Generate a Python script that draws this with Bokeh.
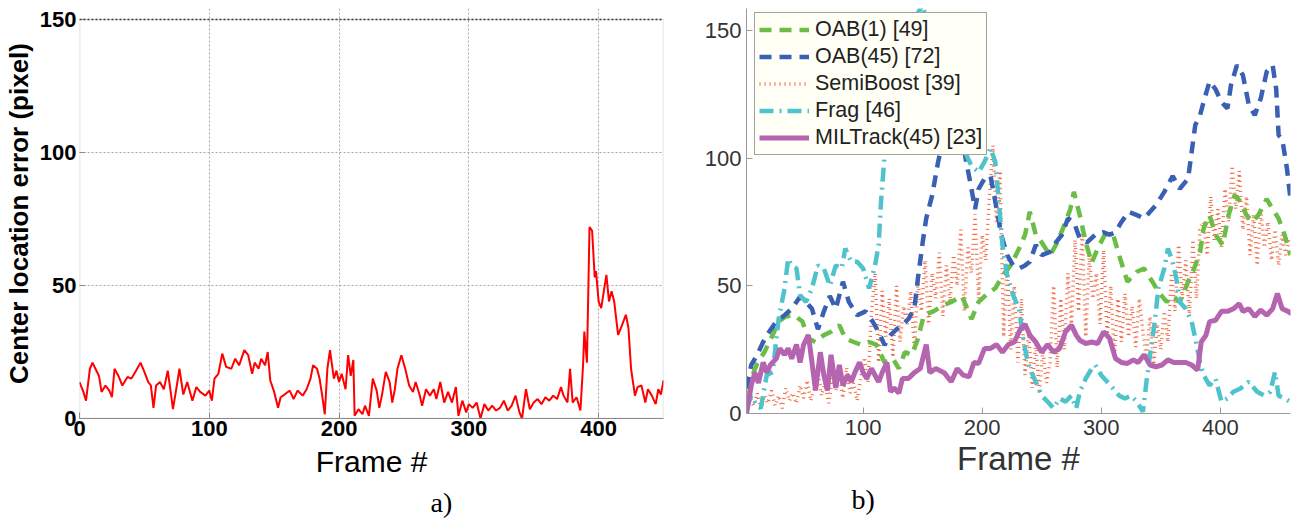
from bokeh.plotting import figure
from bokeh.layouts import row
from bokeh.models import Range1d, FixedTicker, Legend, LegendItem, Title, BoxAnnotation, Span
from bokeh.embed import file_html
from bokeh.resources import INLINE

# ---------------- panel a) data ----------------
a_frames = [0, 3, 5, 8, 10, 12, 15, 17, 20, 23,
            25, 27, 30, 33, 37, 40, 43, 47, 50, 53,
            55, 57, 59, 62, 65, 68, 70, 72, 75, 77,
            80, 83, 87, 90, 93, 97, 100, 102, 104, 107,
            110, 113, 117, 120, 123, 127, 130, 133, 135, 138,
            140, 143, 145, 147, 150, 153, 155, 158, 162, 165,
            168, 172, 175, 178, 180, 183, 185, 187, 189, 191,
            193, 196, 198, 200, 202, 205, 207, 209, 211, 212,
            215, 218, 220, 223, 226, 229, 231, 233, 236, 239,
            241, 243, 245, 248, 251, 254, 257, 259, 262, 264,
            267, 270, 273, 275, 278, 281, 284, 287, 290, 292,
            295, 298, 300, 303, 306, 309, 312, 315, 318, 321,
            324, 327, 330, 333, 336, 339, 341, 344, 347, 350,
            353, 356, 359, 362, 365, 368, 371, 373, 376, 378,
            380, 383, 386, 388, 389, 391, 393, 395, 397, 398,
            400, 402, 404, 406, 408, 410, 412, 415, 418, 421,
            423, 425, 428, 430, 433, 436, 438, 441, 444, 446,
            448, 450]
a_error = [13.7, 10, 6.7, 18.7, 21, 19, 16, 10, 12.4, 10.5,
           8, 18.7, 16, 12.4, 15.6, 15, 17.5, 21, 17.5, 13.7,
           12.4, 4, 12.4, 13.7, 11, 18, 11, 3.5, 12.4, 18.7,
           9, 13.7, 6.7, 11.8, 10, 8.6, 10.5, 6.7, 15, 16.8,
           24.4, 19.4, 18.7, 22.5, 20, 25.7, 23.8, 16.8, 21, 18.7,
           22.5, 20, 25, 14.3, 10, 4, 8, 9, 10.5, 7.3,
           10.5, 8.6, 11, 15, 20, 18.7, 15, 8.6, 1.6, 18.7,
           25.7, 15, 18, 13.7, 16.8, 11, 23.8, 16, 22, 1,
           3.5, 1.6, 4.8, 1, 15, 10.5, 4, 8.6, 17.5, 13.7,
           6, 11, 18.7, 23.8, 18.7, 12.4, 10, 13.7, 9, 4.8,
           11, 8.6, 11, 7.3, 13.7, 6, 10, 6, 11.8, 1,
           6.7, 2.3, 5.4, 4, 6, 0, 5.4, 3, 4.8, 3,
           4, 6.7, 3, 4.8, 8.6, 2.3, 0, 11, 3.5, 6,
           7.3, 5.4, 8, 6.7, 8.6, 7.3, 11.8, 8.6, 6, 18.7,
           6, 8, 3, 20, 32.7, 21, 72, 70.6, 53, 55.4,
           44, 41.5, 47.8, 54, 44, 47.8, 44, 31.4, 35, 39,
           34, 18.7, 8.6, 11.8, 12.4, 6, 11, 8.6, 5.4, 11,
           9, 14.3]
a_xticks = [0, 100, 200, 300, 400]
a_yticks = [0, 50, 100, 150]

# ---------------- panel b) data ----------------
oab1_frames = [2, 6, 11, 17, 24, 29, 35, 42, 49, 54,
               60, 67, 73, 80, 85, 92, 98, 105, 111, 118,
               125, 130, 135, 141, 146, 151, 159, 166, 174, 183,
               191, 197, 206, 211, 217, 224, 231, 236, 240, 245,
               250, 257, 262, 269, 274, 277, 282, 287, 292, 297,
               303, 310, 315, 322, 330, 336, 343, 348, 355, 360,
               366, 373, 378, 383, 386, 391, 396, 402, 407, 412,
               417, 422, 427, 432, 439, 444, 449, 454, 459]
oab1_err = [0, 13.7, 19.6, 24, 30.7, 36, 38, 38.5, 36, 29.4,
            28, 30.7, 32, 34.6, 29.4, 28, 27, 28, 27, 20,
            21.5, 17.6, 24, 23, 29.4, 38.5, 40, 42, 43.7, 46,
            37, 43.7, 47.6, 49, 54, 58, 64.6, 70, 79, 70,
            67, 62, 66, 73.8, 80, 86.8, 77.7, 67, 59, 64.6,
            70, 70, 62, 51.6, 55.5, 56.8, 51.6, 47.6, 43.7, 46,
            43.7, 51.6, 56.8, 63, 72.5, 77.7, 70, 66, 77.7, 85.5,
            83, 77.7, 75, 77.7, 84, 80, 76.4, 70, 62]

oab45_frames = [2, 6, 11, 16, 21, 27, 34, 40, 47, 52,
                57, 62, 67, 72, 77, 83, 88, 95, 102, 108,
                113, 118, 123, 128, 133, 138, 143, 146, 150, 153,
                158, 163, 168, 174, 180, 186, 191, 194, 197, 202,
                207, 211, 216, 221, 226, 231, 236, 240, 245, 250,
                257, 262, 267, 272, 277, 282, 288, 295, 302, 307,
                312, 317, 323, 330, 336, 341, 346, 353, 360, 366,
                373, 376, 379, 383, 386, 391, 396, 401, 406, 409,
                414, 419, 424, 429, 434, 439, 444, 447, 449, 452,
                456, 459]
oab45_err = [9.8, 19, 23, 28, 32, 36, 38.5, 41, 45.7, 43.7,
             41, 33, 40, 46, 41, 51.6, 43.7, 38.5, 40, 36,
             32, 26.8, 30.7, 33, 34.6, 37, 41, 52.9, 67, 76.4,
             85.5, 98.6, 109, 116.8, 118, 100, 88, 80, 88, 92,
             93, 83, 70, 62, 58, 56.8, 58, 59.4, 66, 62,
             63.3, 67, 70, 76.4, 75, 68.5, 67, 70, 71, 70,
             71, 75, 79, 77.7, 76.4, 79, 81.6, 86.8, 93, 88,
             92, 102.5, 113, 116.8, 122, 130, 127, 122, 119.5, 128.6,
             136.4, 132.5, 120.8, 116.8, 123.4, 133.8, 136.4, 127, 109, 107.6,
             96, 84]

semi_frames = list(range(2, 460, 3))
semi_err = [1, 6, 3, 8, 2, 7, 4,
            9, 3, 7, 2, 10, 5, 8, 4, 11,
            6, 13, 5, 10, 16, 7, 12, 4, 14, 9, 15, 6, 18, 8, 12, 5, 14,
            22, 12, 40, 55, 20, 48,
            30, 45, 22, 50, 28, 42, 35, 48, 25, 52,
            40, 60, 35, 55, 45, 63, 38, 58, 44, 62,
            50, 72, 40, 65, 55, 78, 45, 70, 60,
            85, 105, 75, 95,
            30, 60, 25, 50, 20, 45,
            15, 32, 10, 28, 8, 25, 12, 20,
            50, 18, 45, 25, 55,
            35, 68, 40, 72, 30, 62, 45,
            55, 35, 64, 30, 50, 22, 45,
            28, 47, 30, 42, 26, 45, 32,
            22, 38, 18, 35, 25, 40, 28,
            55, 40, 66, 45, 60,
            38, 68, 45, 72,
            75, 62, 85, 68, 80, 65, 88,
            75, 97, 80, 95, 72,
            85, 62, 78, 58, 80, 65, 75,
            60, 72, 58, 70, 62, 68]

frag_frames = [2, 6, 9, 14, 19, 24, 29, 34, 37, 40,
               44, 47, 52, 57, 62, 67, 72, 77, 82, 85,
               90, 95, 100, 105, 110, 113, 115, 118, 121, 131,
               141, 150, 158, 171, 184, 191, 197, 202, 207, 211,
               214, 217, 221, 226, 231, 234, 237, 240, 245, 250,
               255, 260, 265, 270, 275, 279, 282, 287, 292, 295,
               300, 305, 310, 315, 320, 325, 330, 335, 338, 341,
               345, 348, 353, 356, 360, 363, 366, 371, 376, 379,
               383, 386, 391, 396, 401, 406, 411, 417, 424, 431,
               437, 442, 446, 449, 454, 459]
frag_err = [2, 7, 4.6, 2, 15, 16.3, 37, 49, 60.7, 58,
            56.8, 46.3, 43.7, 49, 58, 56.8, 50, 58, 56.8, 64.6,
            59.4, 59.4, 56.8, 49, 58, 66, 83, 101, 111.6, 135,
            153, 160, 145.6, 122, 103.8, 97, 94.5, 98.6, 103.8, 98.6,
            83, 66, 54, 46.3, 41, 30.7, 22.8, 17.6, 12.4, 7,
            4.6, 2, 5.9, 4.6, 7, 2, 8.5, 13.7, 17.6, 19,
            15, 12.4, 9.8, 7, 5.9, 7, 4.6, 0.7, 12.4, 22.8,
            36, 49, 56.8, 64.6, 59.4, 53, 43.7, 41, 36, 29.4,
            20, 15, 11, 13.7, 4.6, 5.9, 8.5, 9.8, 12.4, 8.5,
            7, 8.5, 16.3, 7, 5.9, 4.6]

mil_frames = [2, 6, 9, 12, 16, 19, 22, 27, 30, 34,
              37, 40, 44, 47, 50, 54, 57, 60, 64, 67,
              70, 73, 77, 80, 83, 87, 90, 93, 97, 100,
              103, 107, 110, 113, 116, 120, 123, 126, 130, 133,
              138, 143, 148, 153, 156, 161, 168, 174, 179, 184,
              189, 193, 197, 202, 207, 212, 217, 222, 227, 232,
              236, 240, 245, 250, 255, 260, 265, 270, 275, 279,
              282, 287, 292, 297, 302, 307, 312, 317, 322, 327,
              331, 336, 341, 346, 351, 356, 361, 366, 371, 376,
              381, 384, 388, 391, 396, 401, 406, 411, 416, 419,
              424, 429, 434, 439, 444, 448, 452, 457, 460]
mil_err = [0, 11, 16, 12, 20, 16, 19, 21.5, 25.5, 23,
           25.5, 21.5, 27, 20, 27, 30.7, 20, 9, 24, 15,
           9, 23, 10, 19, 11, 15, 12.4, 16, 20, 16,
           13.7, 17.6, 15, 12.4, 16, 20, 8.5, 10, 8, 13.7,
           13.7, 16, 17.6, 27, 16, 17.6, 16, 12.4, 17.6, 15,
           14.4, 20, 19.6, 25.5, 25.5, 27, 24, 27, 28, 33,
           35, 30.7, 28, 24, 27, 24, 25.5, 32, 34.6, 30.7,
           28.7, 27.4, 28, 27.4, 32, 29.4, 21.5, 20, 19.6, 21,
           20, 23, 19, 18.3, 19, 21, 20, 20, 20, 19,
           17, 28, 30.7, 36, 36.5, 40, 40, 41, 43, 40,
           41, 38, 40.5, 38.5, 41, 47, 41, 40, 39]

legend_labels = ["OAB(1) [49]", "OAB(45) [72]", "SemiBoost [39]", "Frag [46]", "MILTrack(45) [23]"]
b_xticks = [100, 200, 300, 400]
b_yticks = [0, 50, 100, 150]

SANS = "Liberation Sans"
SERIF = "Liberation Serif"

# ---------------- panel a) ----------------
p1 = figure(width=680, height=525, x_range=Range1d(0, 450), y_range=Range1d(0, 154.14),
            output_backend="svg", toolbar_location=None,
            min_border_left=77, min_border_right=17, min_border_top=8, min_border_bottom=107)
p1.line(a_frames, a_error, color="#ff0000", line_width=2)

p1.xaxis.ticker = FixedTicker(ticks=a_xticks)
p1.yaxis.ticker = FixedTicker(ticks=a_yticks)
for ax in (p1.xaxis[0], p1.yaxis[0]):
    ax.axis_line_color = "#8a8a8a"
    ax.major_tick_line_color = "#8a8a8a"
    ax.major_tick_in = 6
    ax.major_tick_out = 0
    ax.minor_tick_line_color = None
    ax.major_label_text_font = SANS
    ax.major_label_text_font_style = "bold"
    ax.major_label_text_font_size = "22px"
    ax.major_label_text_color = "#000000"
    ax.axis_label_text_font = SANS
    ax.axis_label_text_color = "#000000"
p1.yaxis.axis_line_color = None
p1.xaxis.major_label_standoff = 2
p1.yaxis.major_label_standoff = 3
p1.xaxis.axis_label = "Frame #"
p1.xaxis.axis_label_text_font_size = "30px"
p1.xaxis.axis_label_text_font_style = "normal"
p1.xaxis.axis_label_standoff = 6
p1.yaxis.axis_label = "Center location error (pixel)"
p1.yaxis.axis_label_text_font_size = "26px"
p1.yaxis.axis_label_text_font_style = "bold"
p1.yaxis.axis_label_standoff = 3
for g in (p1.xgrid[0], p1.ygrid[0]):
    g.grid_line_color = "#a8a8a8"
    g.grid_line_dash = "2 2"
    g.grid_line_width = 1
p1.outline_line_color = None
p1.add_layout(BoxAnnotation(left=0, right=450, bottom=0, top=150, fill_alpha=0,
                            line_color="#8a8a8a", line_width=1.5))
p1.add_layout(Span(location=150, dimension="width", line_color="#444444",
                   line_dash="2 2", line_width=1.5))
p1.add_layout(Title(text="a)", align="left", offset=351, standoff=8, text_font=SERIF,
                    text_font_size="28px", text_font_style="normal", text_color="#000000"),
              "below")

# ---------------- panel b) ----------------
p2 = figure(width=614, height=520, x_range=Range1d(2, 459), y_range=Range1d(0, 158.6),
            output_backend="svg", toolbar_location=None,
            min_border_left=66, min_border_right=4, min_border_top=8, min_border_bottom=107)
p2.grid.visible = False
p2.outline_line_color = None

r_semi = p2.line(semi_frames, semi_err, color="#f05a32", line_width=3.5, line_dash="1 4", line_alpha=0.9)
r_oab1 = p2.line(oab1_frames, oab1_err, color="#6cbd45", line_width=4.5, line_dash="12 8")
r_oab45 = p2.line(oab45_frames, oab45_err, color="#3a60b4", line_width=4.5, line_dash="12 8")
r_frag = p2.line(frag_frames, frag_err, color="#4fc3cc", line_width=4.5, line_dash="14 6 2 6")
r_mil = p2.line(mil_frames, mil_err, color="#b565b0", line_width=5)

legend = Legend(items=[LegendItem(label=legend_labels[0], renderers=[r_oab1]),
                       LegendItem(label=legend_labels[1], renderers=[r_oab45]),
                       LegendItem(label=legend_labels[2], renderers=[r_semi]),
                       LegendItem(label=legend_labels[3], renderers=[r_frag]),
                       LegendItem(label=legend_labels[4], renderers=[r_mil])],
                location=(8, 258))
legend.label_text_font = SANS
legend.label_text_font_size = "21.5px"
legend.label_text_color = "#222222"
legend.glyph_width = 50
legend.glyph_height = 21
legend.label_height = 21
legend.label_standoff = 6
legend.spacing = 2
legend.padding = 4
legend.margin = 0
legend.border_line_color = "#444444"
legend.border_line_width = 1
legend.background_fill_color = "#fffff6"
legend.background_fill_alpha = 1.0
p2.add_layout(legend)

p2.xaxis.ticker = FixedTicker(ticks=b_xticks)
p2.yaxis.ticker = FixedTicker(ticks=b_yticks)
for ax in (p2.xaxis[0], p2.yaxis[0]):
    ax.axis_line_color = "#9a9a9a"
    ax.major_tick_line_color = "#9a9a9a"
    ax.major_tick_in = 6
    ax.major_tick_out = 0
    ax.minor_tick_line_color = None
    ax.major_label_text_font = SANS
    ax.major_label_text_font_size = "22px"
    ax.major_label_text_color = "#333333"
p2.xaxis.major_label_standoff = 6
p2.yaxis.major_label_standoff = 5
p2.xaxis.axis_label = "Frame #"
p2.xaxis.axis_label_text_font = SANS
p2.xaxis.axis_label_text_font_size = "33px"
p2.xaxis.axis_label_text_font_style = "normal"
p2.xaxis.axis_label_text_color = "#333333"
p2.xaxis.axis_label_standoff = 2
p2.add_layout(Title(text="b)", align="left", offset=105, standoff=5, text_font=SERIF,
                    text_font_size="28px", text_font_style="normal", text_color="#000000"),
              "below")

layout = row(p1, p2)
open("out.html", "w").write(file_html(layout, INLINE))
